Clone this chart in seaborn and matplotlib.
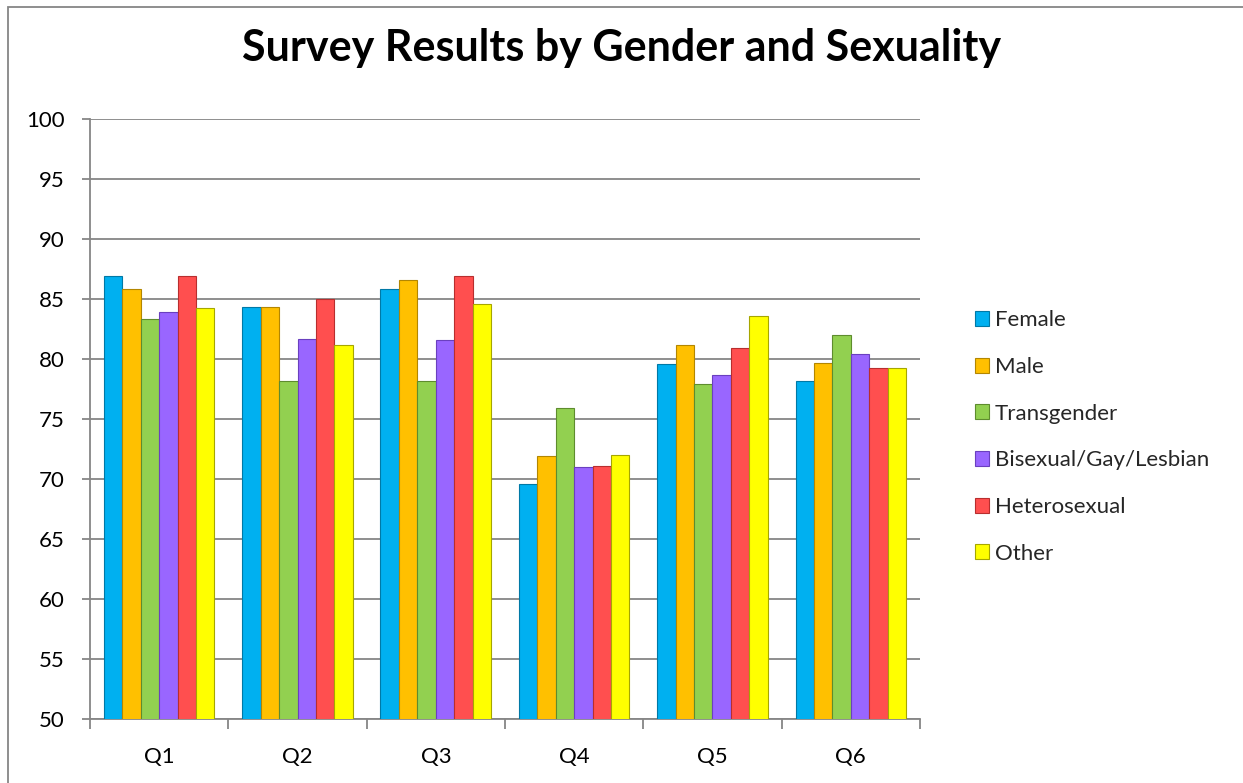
import matplotlib
matplotlib.use("Agg")
import matplotlib.pyplot as plt
import matplotlib.patches as mpatches
import numpy as np
import pandas as pd
import seaborn as sns

# Survey scores per question and group
questions = ["Q1", "Q2", "Q3", "Q4", "Q5", "Q6"]
groups = ["Female", "Male", "Transgender", "Bisexual/Gay/Lesbian", "Heterosexual", "Other"]
female = [86.9, 84.35, 85.8, 69.6, 79.55, 78.15]
male = [85.8, 84.3, 86.6, 71.9, 81.2, 79.7]
transgender = [83.3, 78.2, 78.2, 75.95, 77.95, 82.0]
bisexual_gay_lesbian = [83.9, 81.7, 81.55, 71.0, 78.7, 80.45]
heterosexual = [86.9, 85.0, 86.9, 71.05, 80.95, 79.25]
other = [84.25, 81.2, 84.6, 72.0, 83.55, 79.25]
y_ticks = [50, 55, 60, 65, 70, 75, 80, 85, 90, 95, 100]

palette = ["#00B0F0", "#FFC000", "#92D050", "#9966FF", "#FF4F4F", "#FFFF00"]
edges = ["#0079A6", "#B38600", "#5E8C2E", "#6A40BF", "#B82E2E", "#A6A600"]

series = [female, male, transgender, bisexual_gay_lesbian, heterosexual, other]
df = pd.DataFrame({
    "Question": np.repeat([questions], len(groups), axis=0).ravel(),
    "Group": np.repeat(groups, len(questions)),
    "Score": np.concatenate(series),
})

sns.set_theme(style="white")
plt.rcParams["font.family"] = ["Lato", "DejaVu Sans"]

fig = plt.figure(figsize=(12.43, 7.83), dpi=100)
ax = fig.add_axes([90 / 1243, 1 - 719 / 783, 830 / 1243, 600 / 783])

sns.barplot(data=df, x="Question", y="Score", hue="Group", order=questions,
            hue_order=groups, palette=palette, width=0.8, ax=ax,
            saturation=1, legend=False, zorder=3)

# darker outline per series for a bevelled look
for container, ec in zip(ax.containers, edges):
    for bar in container:
        bar.set_edgecolor(ec)
        bar.set_linewidth(0.8)

ax.set_ylim(50, 100)
ax.set_yticks(y_ticks)
ax.set_xlim(-0.5, len(questions) - 0.5)
ax.yaxis.grid(True, color="#868686", linewidth=1.3, zorder=0)
ax.set_axisbelow(True)
ax.set_xlabel("")
ax.set_ylabel("")

for s in ["top", "right"]:
    ax.spines[s].set_visible(False)
for s in ["left", "bottom"]:
    ax.spines[s].set_color("#868686")
    ax.spines[s].set_linewidth(1.3)

ax.tick_params(axis="y", which="major", length=6, color="#868686", width=1.3,
               labelsize=16, pad=12, left=True)
ax.tick_params(axis="x", which="major", length=0, labelsize=16, pad=20)
ax.set_xticks(np.arange(-0.5, len(questions)), minor=True)
ax.tick_params(axis="x", which="minor", length=7, color="#868686", width=1.3,
               bottom=True, direction="out")
for lbl in ax.get_xticklabels() + ax.get_yticklabels():
    lbl.set_color("black")

fig.text(0.5, 1 - 48 / 783, "Survey Results by Gender and Sexuality",
         ha="center", va="center", fontsize=31, fontweight="bold", color="black")

handles = [mpatches.Patch(facecolor=c, edgecolor=e, linewidth=0.8, label=g)
           for c, e, g in zip(palette, edges, groups)]
fig.legend(handles=handles, loc="center left",
           bbox_to_anchor=(955 / 1243, 1 - 437 / 783), frameon=False,
           fontsize=16, handlelength=0.65, handleheight=0.65, handletextpad=0.25,
           labelspacing=1.2)

# outer chart border
fig.patches.append(mpatches.Rectangle((8 / 1243, -0.01), 1.1, 1 - 7 / 783 + 0.01,
                                      transform=fig.transFigure, fill=False,
                                      edgecolor="#868686", linewidth=1.3))

fig.savefig("out.png", dpi=100, facecolor="white")
